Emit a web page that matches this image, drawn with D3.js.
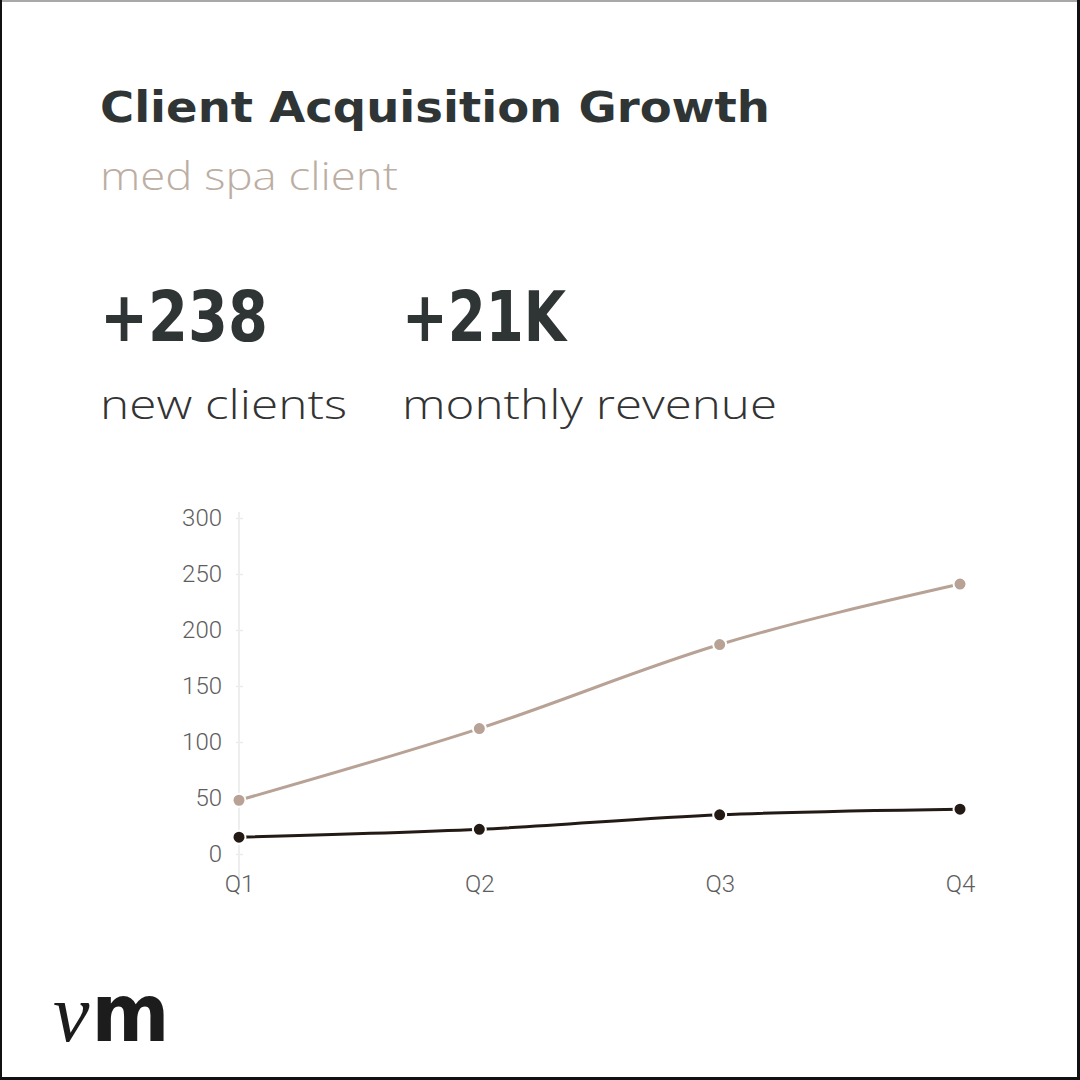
<!DOCTYPE html>
<html>
<head>
<meta charset="utf-8">
<script src="https://cdn.jsdelivr.net/npm/d3@7"></script>
<style>
  html, body { margin: 0; padding: 0; background: #fff; }
  svg { display: block; }
</style>
</head>
<body>
<svg id="chart" width="1080" height="1080"></svg>
<script>
const categories = ["Q1", "Q2", "Q3", "Q4"];
const newClients = [48, 112, 187, 241];
const revenue = [15, 22, 35, 40];
const yTicks = [0, 50, 100, 150, 200, 250, 300];

const titleText = "Client Acquisition Growth";
const subtitleText = "med spa client";
const stats = [
  { value: "+238", label: "new clients" },
  { value: "+21K", label: "monthly revenue" }
];

const svg = d3.select("#chart");
svg.append("rect").attr("x", 0).attr("y", 0).attr("width", 1080).attr("height", 1080).attr("fill", "#fff");

// borders
svg.append("rect").attr("x", 0).attr("y", 0).attr("width", 1080).attr("height", 2).attr("fill", "#a8a8a8");
svg.append("rect").attr("x", 0).attr("y", 0).attr("width", 2).attr("height", 1080).attr("fill", "#111");
svg.append("rect").attr("x", 1077).attr("y", 0).attr("width", 3).attr("height", 1080).attr("fill", "#111");
svg.append("rect").attr("x", 0).attr("y", 1077).attr("width", 1080).attr("height", 3).attr("fill", "#111");

// title
svg.append("text").attr("x", 100).attr("y", 122)
  .attr("font-family", "'DejaVu Sans', sans-serif").attr("font-weight", 700)
  .attr("font-size", 42).attr("fill", "#2f3534")
  .attr("textLength", 670).attr("lengthAdjust", "spacingAndGlyphs")
  .text(titleText);

svg.append("text").attr("x", 100).attr("y", 190)
  .attr("font-family", "'Open Sans', sans-serif").attr("font-weight", 300)
  .attr("font-size", 38).attr("fill", "#bcaea3")
  .attr("textLength", 298).attr("lengthAdjust", "spacingAndGlyphs")
  .text(subtitleText);

const statX = [100, 402];
const valueW = [168, 164];
const labelW = [247, 375];
stats.forEach((s, i) => {
  svg.append("text").attr("x", statX[i]).attr("y", 341)
    .attr("font-family", "'DejaVu Sans', sans-serif").attr("font-weight", 700)
    .attr("font-size", 70).attr("fill", "#2f3534")
    .attr("textLength", valueW[i]).attr("lengthAdjust", "spacingAndGlyphs")
    .text(s.value);
  svg.append("text").attr("x", statX[i]).attr("y", 419)
    .attr("font-family", "'Open Sans', sans-serif").attr("font-weight", 300)
    .attr("font-size", 41).attr("fill", "#333")
    .attr("textLength", labelW[i]).attr("lengthAdjust", "spacingAndGlyphs")
    .text(s.label);
});

// chart
const x = d3.scalePoint().domain(categories).range([239, 960]);
const y = d3.scaleLinear().domain([0, 300]).range([854, 518]);

svg.append("line").attr("x1", 239).attr("x2", 239)
  .attr("y1", 512).attr("y2", 888).attr("stroke", "#e8e8e8").attr("stroke-width", 1.5);

const yAxis = d3.axisLeft(y).tickValues(yTicks).tickSize(7).tickPadding(10);
const yg = svg.append("g").attr("transform", "translate(243,0)").call(yAxis);
yg.select(".domain").remove();
yg.selectAll(".tick line").attr("stroke", "#ececec").attr("stroke-width", 1.5);
yg.selectAll(".tick text").attr("font-family", "Roboto, sans-serif").attr("font-weight", 300)
  .attr("font-size", 24).attr("fill", "#5e5e5e").attr("dx", -4);

const xAxis = d3.axisBottom(x).tickSize(0).tickPadding(0);
const xg = svg.append("g").attr("transform", "translate(0,875)").call(xAxis);
xg.select(".domain").remove();
xg.selectAll(".tick text").attr("font-family", "Roboto, sans-serif").attr("font-weight", 300)
  .attr("font-size", 24).attr("fill", "#5e5e5e");

const line = d3.line().x((d, i) => x(categories[i])).y(d => y(d)).curve(d3.curveMonotoneX);

const series = [
  { values: newClients, color: "#b8a296" },
  { values: revenue, color: "#231a15" }
];

series.forEach(s => {
  svg.append("path").datum(s.values).attr("d", line)
    .attr("fill", "none").attr("stroke", s.color).attr("stroke-width", 3);
});
series.forEach(s => {
  svg.selectAll(null).data(s.values).enter().append("circle")
    .attr("cx", (d, i) => x(categories[i])).attr("cy", d => y(d))
    .attr("r", 6.5).attr("fill", s.color).attr("stroke", "#fff").attr("stroke-width", 2);
});

// logo
const logo = svg.append("text").attr("x", 53).attr("y", 1041).attr("fill", "#1c1c1c");
logo.append("tspan").attr("font-family", "'Liberation Serif', serif").attr("font-style", "italic")
  .attr("font-size", 82).text("v");
logo.append("tspan").attr("dx", 2).attr("font-family", "'DejaVu Sans', sans-serif").attr("font-weight", 700)
  .attr("font-size", 80).attr("textLength", 78).attr("lengthAdjust", "spacingAndGlyphs").text("m");
</script>
</body>
</html>
